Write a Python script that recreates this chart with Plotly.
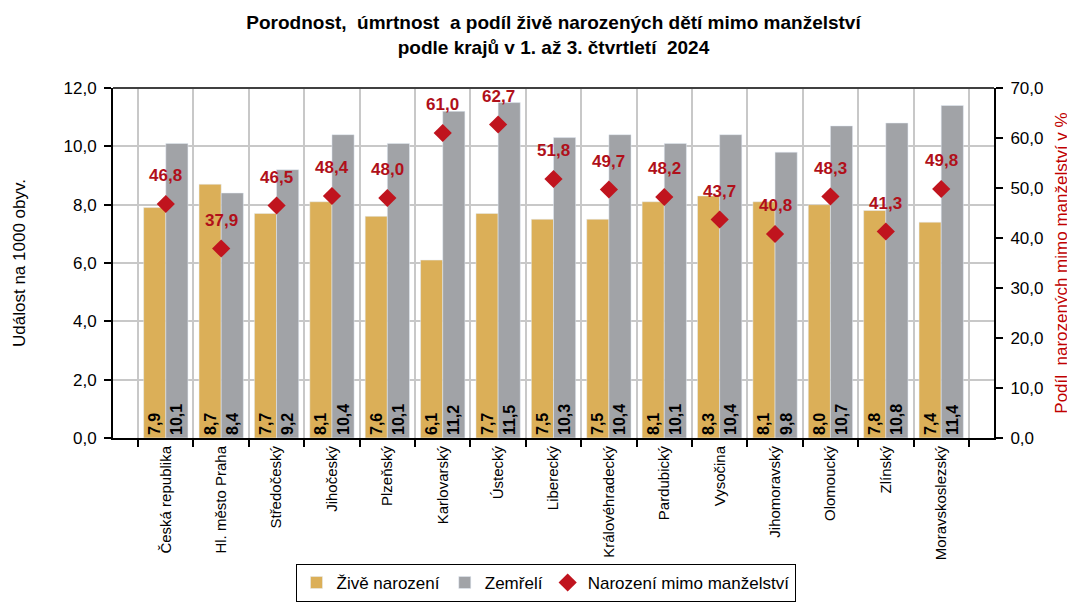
import plotly.graph_objects as go

categories = ["Česká republika", "Hl. město Praha", "Středočeský", "Jihočeský", "Plzeňský",
              "Karlovarský", "Ústecký", "Liberecký", "Královéhradecký", "Pardubický",
              "Vysočina", "Jihomoravský", "Olomoucký", "Zlínský", "Moravskoslezský"]
zive_narozeni = [7.9, 8.7, 7.7, 8.1, 7.6, 6.1, 7.7, 7.5, 7.5, 8.1, 8.3, 8.1, 8.0, 7.8, 7.4]
zemreli = [10.1, 8.4, 9.2, 10.4, 10.1, 11.2, 11.5, 10.3, 10.4, 10.1, 10.4, 9.8, 10.7, 10.8, 11.4]
mimo_manzelstvi = [46.8, 37.9, 46.5, 48.4, 48.0, 61.0, 62.7, 51.8, 49.7, 48.2, 43.7, 40.8, 48.3, 41.3, 49.8]

def fmt(v):
    return f"{v:.1f}".replace(".", ",")

FONT = "Liberation Sans, Arial, sans-serif"
GOLD = "#DBAF58"
GRAY = "#A1A3A7"
RED = "#C0141E"
LABEL_RED = "#B0101A"

fig = go.Figure()
fig.add_trace(go.Bar(
    x=categories, y=zive_narozeni, name="Živě narození", marker_color=GOLD,
    text=[fmt(v) for v in zive_narozeni], textposition="inside", insidetextanchor="start",
    textangle=-90, textfont=dict(size=16, color="black", family=FONT, weight="bold"),
    constraintext="none", hoverinfo="y",
))
fig.add_trace(go.Bar(
    x=categories, y=zemreli, name="Zemřelí", marker_color=GRAY,
    text=[fmt(v) for v in zemreli], textposition="inside", insidetextanchor="start",
    textangle=-90, textfont=dict(size=16, color="black", family=FONT, weight="bold"),
    constraintext="none", hoverinfo="y",
))
fig.add_trace(go.Scatter(
    x=categories, y=mimo_manzelstvi, name="Narození mimo manželství", yaxis="y2",
    mode="markers", marker=dict(symbol="diamond", size=14, color=RED),
))

for c, v in zip(categories, mimo_manzelstvi):
    fig.add_annotation(
        x=c, y=v, xref="x", yref="y2", text=f"<b>{fmt(v)}</b>", showarrow=False,
        yanchor="bottom", yshift=17,
        font=dict(size=17, color=LABEL_RED, family=FONT),
    )

fig.update_layout(
    width=1075, height=603,
    paper_bgcolor="white", plot_bgcolor="white",
    font=dict(family=FONT, size=14, color="black"),
    separators=", ",
    barmode="group", bargap=0.2, bargroupgap=0,
    margin=dict(l=105, r=89, t=80, b=173, autoexpand=False),
    uniformtext=dict(minsize=16, mode="show"),
    title=dict(
        text="<b>Porodnost,  úmrtnost  a podíl živě narozených dětí mimo manželství<br>podle krajů v 1. až 3. čtvrtletí  2024</b>",
        x=0.5, xanchor="center", xref="paper", yref="container", y=0.965, yanchor="middle",
        font=dict(size=19, family=FONT, color="black"),
    ),
    xaxis=dict(
        type="category", tickson="boundaries", tickangle=-90, automargin=False,
        showgrid=True, gridcolor="#C8C8C8", gridwidth=1.5,
        ticks="outside", ticklen=7, tickcolor="black", tickwidth=1.5,
        showline=True, linecolor="black", linewidth=2, mirror=False,
        tickfont=dict(size=15, family=FONT),
    ),
    yaxis=dict(
        range=[0, 12], dtick=2, tickformat=".1f", automargin=False,
        showgrid=True, gridcolor="#C8C8C8", gridwidth=1.5,
        ticks="outside", ticklen=7, tickcolor="black", tickwidth=1.5,
        ticklabelstandoff=4,
        showline=True, linecolor="black", linewidth=2,
        title=dict(text="Událost na 1000 obyv.", font=dict(size=17, family=FONT), standoff=34),
        tickfont=dict(size=17, family=FONT), zeroline=False,
    ),
    yaxis2=dict(
        range=[0, 70], dtick=10, tickformat=".1f", overlaying="y", side="right", automargin=False,
        showgrid=False, ticks="outside", ticklen=7, tickcolor="black", tickwidth=1.5,
        ticklabelstandoff=4,
        showline=True, linecolor="black", linewidth=2,
        title=dict(text="Podíl  narozených mimo manželství v %", font=dict(size=17, family=FONT, color="#C00000"), standoff=13),
        tickfont=dict(size=17, family=FONT), zeroline=False,
    ),
    legend=dict(
        orientation="h", x=0.5, xanchor="center", xref="container",
        yref="container", y=0.078, yanchor="top",
        bordercolor="black", borderwidth=1, font=dict(size=17, family=FONT),
        itemwidth=30, traceorder="normal",
    ),
    showlegend=True,
)
fig.add_shape(type="line", xref="paper", yref="paper", x0=0, x1=1, y0=1, y1=1,
              line=dict(color="#404040", width=2))

fig.write_html("out.html")
